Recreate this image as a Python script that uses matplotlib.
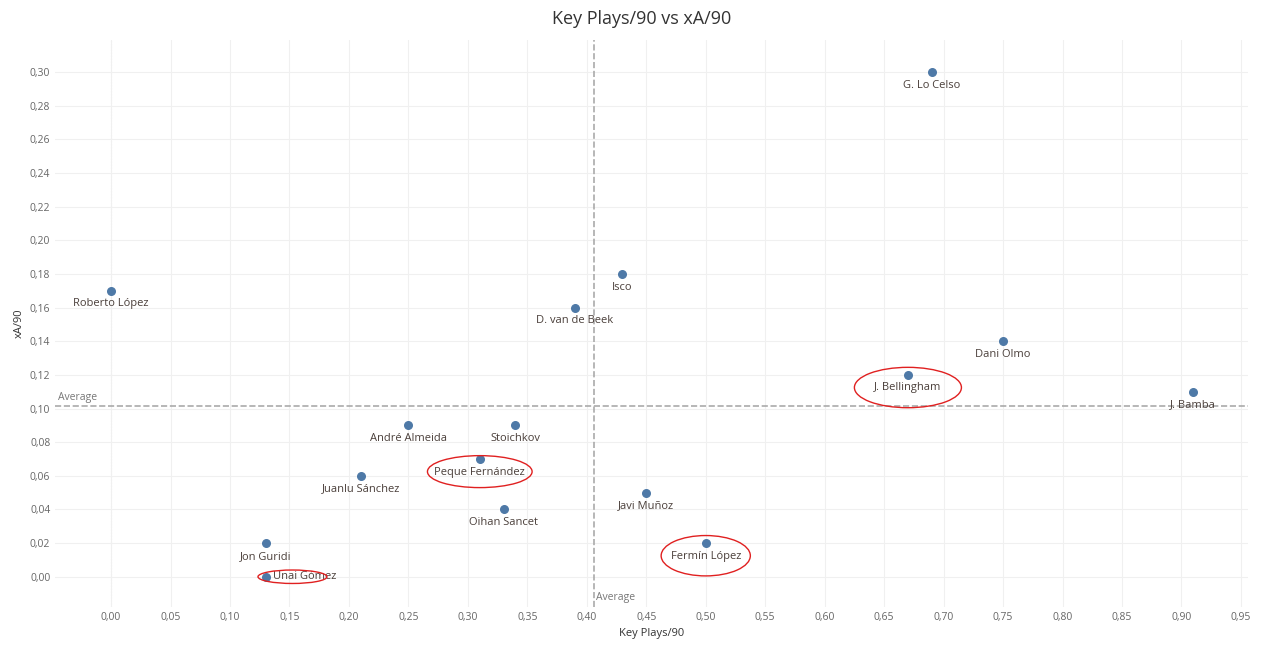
import numpy as np
import matplotlib
matplotlib.use('Agg')
import matplotlib.pyplot as plt
from matplotlib.patches import Ellipse
from matplotlib.ticker import FuncFormatter, MultipleLocator

plt.rcParams['font.family'] = ['Open Sans', 'DejaVu Sans']

players = ['Roberto López', 'D. van de Beek', 'Isco', 'G. Lo Celso', 'Dani Olmo',
           'J. Bellingham', 'J. Bamba', 'André Almeida', 'Stoichkov', 'Peque Fernández',
           'Juanlu Sánchez', 'Javi Muñoz', 'Oihan Sancet', 'Fermín López', 'Jon Guridi',
           'Unai Gómez']
key_plays = [0.00, 0.39, 0.43, 0.69, 0.75, 0.67, 0.91, 0.25, 0.34, 0.31, 0.21, 0.45, 0.33, 0.50, 0.13, 0.13]
xa = [0.17, 0.16, 0.18, 0.30, 0.14, 0.12, 0.11, 0.09, 0.09, 0.07, 0.06, 0.05, 0.04, 0.02, 0.02, 0.00]
highlighted = {'J. Bellingham': (0.09, 0.024), 'Peque Fernández': (0.088, 0.019),
               'Fermín López': (0.075, 0.024)}

x_avg = np.mean(key_plays)
y_avg = np.mean(xa)

fig = plt.figure(figsize=(12.84, 6.70), dpi=100)
ax = fig.add_axes([0.043, 0.094, 0.929, 0.846])

ax.scatter(key_plays, xa, s=30, color='#4e79a7', zorder=3)
for name, x, y in zip(players, key_plays, xa):
    if name == 'Unai Gómez':
        # label sits to the right of the point here
        ax.text(x + 0.006, y, name, ha='left', va='center', fontsize=8, color='#4a3f3a', zorder=4)
        ax.add_patch(Ellipse((x + 0.0225, y), 0.058, 0.008, fill=False, edgecolor='#e02020', lw=1, zorder=4))
        continue
    ax.text(x, y - 0.0045, name, ha='center', va='top', fontsize=8, color='#4a3f3a', zorder=4)
    if name in highlighted:
        w, h = highlighted[name]
        ax.add_patch(Ellipse((x, y - 0.0075), w, h, fill=False, edgecolor='#e02020', lw=1, zorder=4))

ax.axvline(x_avg, color='#aaaaaa', ls='--', lw=1.2, zorder=2)
ax.axhline(y_avg, color='#aaaaaa', ls='--', lw=1.2, zorder=2)
ax.axvline(0, color='#e6e6e6', ls=':', lw=0.8, zorder=1)
ax.text(x_avg + 0.002, -0.0125, 'Average', fontsize=7.5, color='#777777', ha='left', va='center')
ax.text(-0.045, y_avg + 0.002, 'Average', fontsize=7.5, color='#777777', ha='left', va='bottom')

ax.set_xlim(-0.047, 0.956)
ax.set_ylim(-0.018, 0.319)
fmt = FuncFormatter(lambda v, p: f'{v:.2f}'.replace('.', ','))
ax.xaxis.set_major_formatter(fmt)
ax.yaxis.set_major_formatter(fmt)
ax.set_xticks(np.arange(0, 0.951, 0.05))
ax.set_yticks(np.arange(0, 0.301, 0.02))
ax.tick_params(labelsize=7.5, colors='#666666', length=0)
ax.grid(True, color='#f0f0f0', lw=0.8)
for s in ax.spines.values():
    s.set_visible(False)
ax.set_xlabel('Key Plays/90', fontsize=8, color='#333333')
ax.set_ylabel('xA/90', fontsize=8, color='#333333')
fig.suptitle('Key Plays/90 vs xA/90', fontsize=13, color='#333333', y=0.985)

fig.savefig('out.png', dpi=100)
